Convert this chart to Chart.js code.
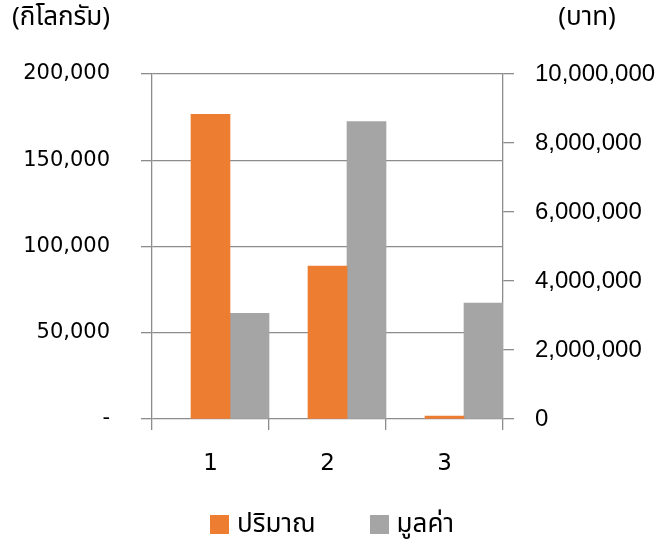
<!DOCTYPE html>
<html lang="th">
<head>
    <meta charset="UTF-8">
    <title>ปริมาณและมูลค่า</title>
    <style>
      body { margin: 0; background: #fff; }
      #wrap { width: 664px; height: 546px; position: relative; }
      #legend {
        position: absolute; left: 0; top: 512px; width: 664px; height: 24px;
        display: flex; justify-content: center; align-items: center; gap: 54px;
        font-family: 'Noto Sans Thai', Tahoma, Loma, Garuda, 'DejaVu Sans', sans-serif;
        font-size: 26px; color: #000;
      }
      #legend .item { display: flex; align-items: center; }
      #legend .box { width: 19px; height: 19px; margin-right: 8px; }
    </style>
</head>
<body>
    <div id="wrap">
        <canvas id="qtyValueChart"></canvas>
        <div id="legend"></div>
    </div>

    <script src="https://cdn.jsdelivr.net/npm/chart.js"></script>
    <script>
        // data
        const categories = ['1', '2', '3'];
        const quantityKg = [176600, 88700, 1700];
        const valueBaht = [3060000, 8620000, 3360000];
        const spacer = [null, null, null];   // empty slot, bars sit right of centre

        const seriesNames = ['ปริมาณ', 'มูลค่า'];
        const seriesColors = ['#ED7D31', '#A5A5A5'];
        const unitLabels = ['(กิโลกรัม)', '(บาท)'];
        const kgTicks = [0, 50000, 100000, 150000, 200000];
        const bahtTicks = [0, 2000000, 4000000, 6000000, 8000000, 10000000];

        const thaiFont = "'Noto Sans Thai', Tahoma, Loma, Garuda, 'DejaVu Sans', sans-serif";
        const gridColor = '#8c8c8c';

        // unit captions above each value axis
        const unitCaptions = {
            id: 'unitCaptions',
            afterDraw(chart) {
                const c = chart.ctx;
                c.save();
                c.font = '26px ' + thaiFont;
                c.fillStyle = '#000';
                c.textBaseline = 'middle';
                c.textAlign = 'left';
                c.fillText(unitLabels[0], 12, 20);
                c.textAlign = 'center';
                c.fillText(unitLabels[1], 587, 20);
                c.restore();
            }
        };

        const ctx = document.getElementById('qtyValueChart').getContext('2d');

        const qtyValueChart = new Chart(ctx, {
            type: 'bar',
            data: {
                labels: categories,
                datasets: [{
                    label: 'spacer',
                    data: spacer,
                    yAxisID: 'y'
                }, {
                    label: seriesNames[0],
                    data: quantityKg,
                    backgroundColor: seriesColors[0],
                    yAxisID: 'y'
                }, {
                    label: seriesNames[1],
                    data: valueBaht,
                    backgroundColor: seriesColors[1],
                    yAxisID: 'y1'
                }]
            },
            options: {
                responsive: true,
                maintainAspectRatio: false,
                animation: false,
                events: [],
                categoryPercentage: 1,
                barPercentage: 1,
                layout: {
                    padding: { top: 74, left: 0, right: 0, bottom: 52 }
                },
                plugins: {
                    tooltip: { enabled: false },
                    legend: { display: false }
                },
                scales: {
                    x: {
                        offset: true,
                        grid: {
                            offset: true,
                            drawOnChartArea: false,
                            tickLength: 11,
                            color: gridColor,
                            lineWidth: 1.3
                        },
                        border: { display: false },
                        ticks: {
                            color: '#000',
                            padding: 20,
                            font: { family: 'DejaVu Sans', size: 23 }
                        },
                        afterFit: s => { s.height = 75; }
                    },
                    y: {
                        position: 'left',
                        min: kgTicks[0],
                        max: kgTicks[kgTicks.length - 1],
                        afterBuildTicks: s => { s.ticks = kgTicks.map(v => ({ value: v })); },
                        grid: {
                            tickLength: 11,
                            color: gridColor,
                            lineWidth: 1.3
                        },
                        border: { display: true, color: gridColor, width: 1.3 },
                        ticks: {
                            color: '#000',
                            padding: 31,
                            font: { family: 'DejaVu Sans', size: 21 },
                            callback: v => v === 0 ? '-' : v.toLocaleString('en-US')
                        },
                        afterFit: s => { s.width = 152; }
                    },
                    y1: {
                        position: 'right',
                        min: bahtTicks[0],
                        max: bahtTicks[bahtTicks.length - 1],
                        afterBuildTicks: s => { s.ticks = bahtTicks.map(v => ({ value: v })); },
                        grid: {
                            drawOnChartArea: false,
                            tickLength: 11,
                            color: gridColor,
                            lineWidth: 1.3
                        },
                        border: { display: true, color: gridColor, width: 1.3 },
                        ticks: {
                            color: '#000',
                            padding: 21,
                            font: { family: "'Liberation Sans', Arial, sans-serif", size: 24 },
                            callback: v => v.toLocaleString('en-US')
                        },
                        afterFit: s => { s.width = 161; }
                    }
                }
            },
            plugins: [unitCaptions]
        });

        // legend below the chart, one entry per real series
        const legendBox = document.getElementById('legend');
        qtyValueChart.data.datasets.slice(1).forEach(ds => {
            const item = document.createElement('div');
            item.className = 'item';
            item.innerHTML = `<span class="box" style="background:${ds.backgroundColor}"></span><span>${ds.label}</span>`;
            legendBox.appendChild(item);
        });
    </script>
</body>
</html>
